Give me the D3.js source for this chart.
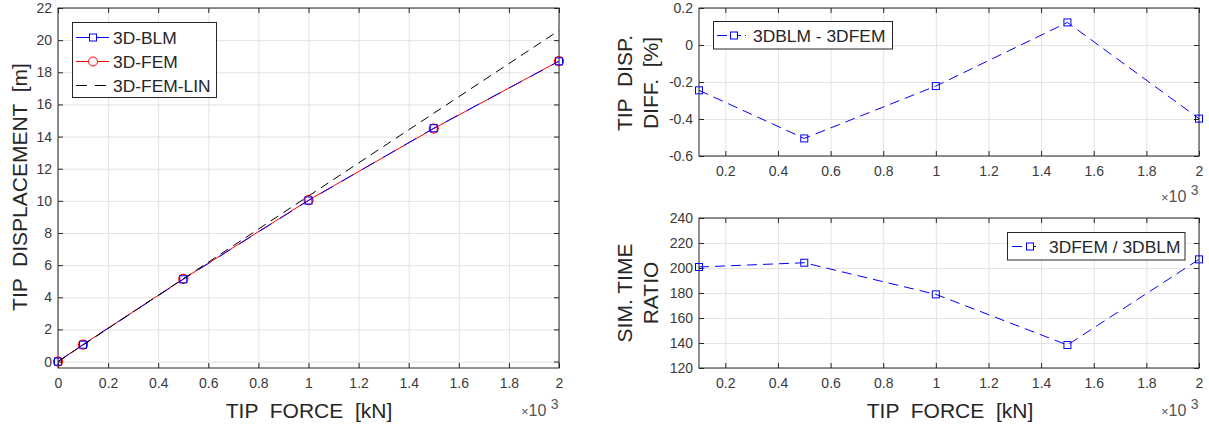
<!DOCTYPE html>
<html>
<head>
<meta charset="utf-8">
<script src="https://cdn.jsdelivr.net/npm/d3@7"></script>
<style>
  body { margin: 0; background: #fff; }
  svg text { font-family: "Liberation Sans", Arial, Helvetica, sans-serif; white-space: pre; }
</style>
</head>
<body>
<svg id="chart" width="1209" height="425"></svg>
<script>
// tip force in x10^3 kN
const force = [0, 0.1, 0.5, 1.0, 1.5, 2.0]
const dispBLM = [0, 1.05, 5.12, 10.02, 14.52, 18.68]
const dispFEM = [0, 1.06, 5.14, 10.04, 14.50, 18.70]
const dispLIN = [0, 1.03, 5.15, 10.3, 15.45, 20.6]
const leftLegend = ["3D-BLM", "3D-FEM", "3D-FEM-LIN"]

const forceR = [0.1, 0.5, 1.0, 1.5, 2.0]
const dispDiff = [-0.245, -0.505, -0.222, 0.122, -0.398]
const timeRatio = [200.8, 204.2, 178.9, 138.4, 206.9]

const xTicksLeft = [0, 0.2, 0.4, 0.6, 0.8, 1, 1.2, 1.4, 1.6, 1.8, 2]
const yTicksLeft = [0, 2, 4, 6, 8, 10, 12, 14, 16, 18, 20, 22]
const xTicksRight = [0.2, 0.4, 0.6, 0.8, 1, 1.2, 1.4, 1.6, 1.8, 2]
const yTicksDiff = [-0.6, -0.4, -0.2, 0, 0.2]
const yTicksRatio = [120, 140, 160, 180, 200, 220, 240]

const svg = d3.select("#chart")
const axisColor = "#262626"
const fmt = v => String(+v.toFixed(6))

function panel(o) {
  const x = d3.scaleLinear().domain(o.xDomain).range([o.left, o.right])
  const y = d3.scaleLinear().domain(o.yDomain).range([o.bottom, o.top])
  const w = o.right - o.left, h = o.bottom - o.top
  const g = svg.append("g")

  // grid
  g.append("g").attr("transform", `translate(0,${o.bottom})`)
    .call(d3.axisBottom(x).tickValues(o.xTicks).tickSize(-h).tickFormat(""))
    .call(a => a.select(".domain").remove())
    .call(a => a.selectAll("line").attr("stroke", "#e3e3e3"))
  g.append("g").attr("transform", `translate(${o.left},0)`)
    .call(d3.axisLeft(y).tickValues(o.yTicks).tickSize(-w).tickFormat(""))
    .call(a => a.select(".domain").remove())
    .call(a => a.selectAll("line").attr("stroke", "#e3e3e3"))

  // axes with inward ticks
  const styleAxis = a => {
    a.select(".domain").remove()
    a.selectAll("line").attr("stroke", axisColor)
    a.selectAll("text").attr("fill", "#3a3a3a").attr("font-size", 14)
      .attr("font-family", "Liberation Sans, Arial, sans-serif")
  }
  g.append("g").attr("transform", `translate(0,${o.bottom})`)
    .call(d3.axisBottom(x).tickValues(o.xTicks).tickSizeInner(-5).tickSizeOuter(0).tickPadding(10).tickFormat(fmt))
    .call(styleAxis)
  g.append("g").attr("transform", `translate(0,${o.top})`)
    .call(d3.axisTop(x).tickValues(o.xTicks).tickSizeInner(-5).tickSizeOuter(0).tickFormat(""))
    .call(styleAxis)
  g.append("g").attr("transform", `translate(${o.left},0)`)
    .call(d3.axisLeft(y).tickValues(o.yTicks).tickSizeInner(-5).tickSizeOuter(0).tickPadding(6).tickFormat(fmt))
    .call(styleAxis)
  g.append("g").attr("transform", `translate(${o.right},0)`)
    .call(d3.axisRight(y).tickValues(o.yTicks).tickSizeInner(-5).tickSizeOuter(0).tickFormat(""))
    .call(styleAxis)

  g.append("rect").attr("x", o.left).attr("y", o.top).attr("width", w).attr("height", h)
    .attr("fill", "none").attr("stroke", axisColor).attr("stroke-width", 1)

  // x10^3 exponent label
  const ex = g.append("text").attr("x", o.right - 38).attr("y", o.expY)
    .attr("fill", "#555").attr("font-size", 13)
  ex.append("tspan").text("\u00d7")
  ex.append("tspan").attr("font-size", 16).text("10 ")
  ex.append("tspan").attr("dy", -7).attr("font-size", 14).text("3")

  return { g, x, y }
}

function series(p, xs, ys, color, dash, marker) {
  const line = d3.line().x((d, i) => p.x(xs[i])).y(d => p.y(d))
  p.g.append("path").datum(ys).attr("d", line).attr("fill", "none")
    .attr("stroke", color).attr("stroke-width", 1)
    .attr("stroke-dasharray", dash || null)
  if (marker === "square") {
    p.g.selectAll(null).data(ys).enter().append("rect")
      .attr("x", (d, i) => p.x(xs[i]) - 3.5).attr("y", d => p.y(d) - 3.5)
      .attr("width", 7).attr("height", 7).attr("fill", "none").attr("stroke", color)
  } else if (marker === "circle") {
    p.g.selectAll(null).data(ys).enter().append("circle")
      .attr("cx", (d, i) => p.x(xs[i])).attr("cy", d => p.y(d)).attr("r", 4.5)
      .attr("fill", "none").attr("stroke", color).attr("stroke-width", 1.2)
  }
}

function legendEntry(g, y, x0, x1, xm, xt, label, color, dash, marker) {
  g.append("line").attr("x1", x0).attr("x2", x1).attr("y1", y).attr("y2", y)
    .attr("stroke", color).attr("stroke-dasharray", dash || null)
  if (marker === "square")
    g.append("rect").attr("x", xm - 3.5).attr("y", y - 3.5).attr("width", 7).attr("height", 7)
      .attr("fill", "#fff").attr("stroke", color)
  if (marker === "circle")
    g.append("circle").attr("cx", xm).attr("cy", y).attr("r", 4.5).attr("fill", "#fff").attr("stroke", color)
  g.append("text").attr("x", xt).attr("y", y + 6).attr("font-size", 17.4).attr("fill", "#262626").text(label)
}

function rotLabel(x, yc, lines, gap) {
  lines.forEach((t, i) => {
    svg.append("text").attr("transform", `translate(${x + i * gap},${yc}) rotate(-90)`)
      .attr("text-anchor", "middle").attr("font-size", 21).attr("fill", "#262626").text(t)
  })
}

// ---- left panel
const pL = panel({ left: 58, right: 559, top: 8, bottom: 368, xDomain: [0, 2], yDomain: [-0.4, 22],
  xTicks: xTicksLeft, yTicks: yTicksLeft, expY: 416 })
series(pL, force, dispFEM, "#ff0000", null, "circle")
series(pL, force, dispBLM, "#0000ff", "14,10", "square")
series(pL, force, dispLIN, "#000000", "9,6", null)

const lg = svg.append("g")
lg.append("rect").attr("x", 72.5).attr("y", 22.5).attr("width", 144).attr("height", 75)
  .attr("fill", "#fff").attr("stroke", axisColor)
legendEntry(lg, 37.5, 76, 109, 93, 113, leftLegend[0], "#0000ff", null, "square")
legendEntry(lg, 61.5, 76, 109, 93, 113, leftLegend[1], "#ff0000", null, "circle")
legendEntry(lg, 85.5, 76, 109, 93, 113, leftLegend[2], "#000000", "11,8", null)

svg.append("text").attr("x", 309).attr("y", 418).attr("text-anchor", "middle")
  .attr("font-size", 21).attr("fill", "#262626").text("TIP  FORCE  [kN]")
rotLabel(27, 187, ["TIP  DISPLACEMENT  [m]"], 0)

// ---- top right panel
const pT = panel({ left: 699, right: 1199, top: 8, bottom: 156, xDomain: [0.1, 2], yDomain: [-0.6, 0.2],
  xTicks: xTicksRight, yTicks: yTicksDiff, expY: 202 })
series(pT, forceR, dispDiff, "#0000ff", "10,6", "square")
const lt = svg.append("g")
lt.append("rect").attr("x", 713.5).attr("y", 21.5).attr("width", 179).attr("height", 27.5)
  .attr("fill", "#fff").attr("stroke", axisColor)
legendEntry(lt, 35.5, 717, 746, 734, 753, "3DBLM - 3DFEM", "#0000ff", "10,4", "square")
rotLabel(632, 83, ["TIP  DISP.", "DIFF.  [%]"], 26)

// ---- bottom right panel
const pB = panel({ left: 699, right: 1199, top: 218, bottom: 368, xDomain: [0.1, 2], yDomain: [120, 240],
  xTicks: xTicksRight, yTicks: yTicksRatio, expY: 416 })
series(pB, forceR, timeRatio, "#0000ff", "10,6", "square")
const lb = svg.append("g")
lb.append("rect").attr("x", 1007.5).attr("y", 232.5).attr("width", 177.5).attr("height", 27.5)
  .attr("fill", "#fff").attr("stroke", axisColor)
legendEntry(lb, 246.5, 1012, 1040, 1030, 1049, "3DFEM / 3DBLM", "#0000ff", "10,4", "square")
rotLabel(632, 293, ["SIM. TIME", "RATIO"], 26)
svg.append("text").attr("x", 950).attr("y", 418).attr("text-anchor", "middle")
  .attr("font-size", 21).attr("fill", "#262626").text("TIP  FORCE  [kN]")
</script>
</body>
</html>
